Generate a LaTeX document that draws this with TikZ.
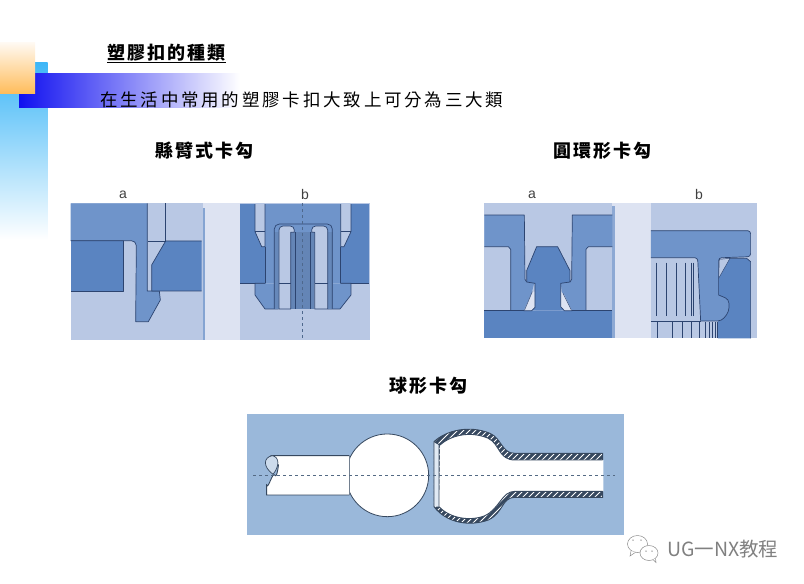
\documentclass[tikz,border=0pt]{standalone}
\usepackage{fontspec}
\usetikzlibrary{shapes.geometric}
\setmainfont{Liberation Sans}
\newfontfamily\cjkwide[LetterSpace=12]{Noto Sans CJK TC}
\newfontfamily\cjkintro[LetterSpace=16]{Noto Sans CJK TC}
\newfontfamily\cjktight{Noto Sans CJK TC}
\definecolor{lightpart}{HTML}{B9C8E4}
\definecolor{midpart}{HTML}{6F94CA}
\definecolor{darkpart}{HTML}{5A84C1}
\definecolor{palestrip}{HTML}{DDE3F2}
\definecolor{edgeline}{HTML}{2C4470}
\definecolor{ballback}{HTML}{9AB8DA}
\definecolor{ballline}{HTML}{36485F}
\tikzset{
	zoomed/.style={x=0.3333pt,y=-0.3333pt},
	edge/.style={draw=edgeline,line width=0.7pt,line join=round},
	thinedge/.style={draw=edgeline,line width=0.45pt},
	heading/.style={font=\cjkwide\bfseries\fontsize{18}{18}\selectfont,inner sep=0pt},
	letter/.style={font=\fontsize{14}{14}\selectfont,text=black!75,inner sep=0pt},
	bubble/.style={draw=black!45,line width=0.5pt,fill=white,ellipse,inner sep=0pt},
	eye/.style={circle,fill=black!45,minimum size=1.5pt,inner sep=0pt},
}
\begin{document}
\begin{tikzpicture}[x=1pt,y=-1pt]
	\useasboundingbox (0,0) rectangle (804,584);
	% slide corner
	\shade[top color={rgb,255:red,61;green,182;blue,247},bottom color=white] (0,62) rectangle (47.5,240);
	\shade[left color={rgb,255:red,16;green,16;blue,240},right color=white] (19,73) rectangle (240,107);
	\shade[top color={rgb,255:red,255;green,250;blue,244},bottom color={rgb,255:red,255;green,189;blue,92}] (0,42) rectangle (35,93);
	% texts
	\node[heading,anchor=west] (title) at (107,53) {塑膠扣的種類};
	\draw[line width=0.8pt] ([yshift=-1pt]title.south west) -- ([yshift=-1pt]title.south east);
	\node[heading,anchor=west,font=\cjkintro\fontsize{17.5}{18}\selectfont] (intro) at (100,100) {在生活中常用的塑膠卡扣大致上可分為三大類};
	\node[heading,anchor=west] (snaphead) at (155,151) {縣臂式卡勾};
	\node[heading,anchor=west] (ringhead) at (553,151) {圓環形卡勾};
	\node[heading,anchor=west] (ballhead) at (389,386) {球形卡勾};
	\node[letter] (snapa) at (123,195) {a};
	\node[letter] (snapb) at (305,194) {b};
	\node[letter] (ringa) at (532,195) {a};
	\node[letter] (ringb) at (699,194) {b};

	% cantilever a
	\begin{scope}[shift={(60,180)},zoomed]
		\fill[lightpart] (32,70) rectangle (428,480);
		\fill[palestrip] (428,70) rectangle (540,480);
		\fill[midpart!70!lightpart] (428,84) rectangle (436,480);
		\fill[darkpart] (32,182) rectangle (190,333);
		\draw[edge] (32,182) -- (190,182) -- (190,333) -- (32,333);
		\fill[midpart] (32,70) -- (262,70) -- (262,333) -- (298,333) -- (301,360) -- (265,425) -- (227,425) -- (229,205) [rounded corners=5pt] -- (229,182) [sharp corners] -- (32,182) -- cycle;
		\draw[edge] (32,182) -- (200,182) [rounded corners=5pt] -- (229,182) [sharp corners] -- (229,205) -- (227,425) -- (265,425) -- (301,360) -- (298,333) -- (262,333) -- (262,70);
		\path[fill=darkpart] (317,183) -- (425,183) -- (425,333) -- (275,333) -- (275,255) -- cycle;
		\draw[edge] (425,183) -- (317,183) -- (275,255) -- (275,333) -- (425,333);
		\draw[edge] (317,70) -- (317,183) -- (265,183);
	\end{scope}

	% cantilever b
	\begin{scope}[shift={(240,200)},zoomed]
		\fill[lightpart] (0,10) rectangle (390,420);
		\fill[darkpart] (0,12) rectangle (75,250);
		\fill[darkpart] (302,12) rectangle (388,250);
		\fill[midpart] (45,12) rectangle (333,72);
		\fill[midpart] (75,72) rectangle (302,250);
		\draw[edge,fill=lightpart] (45,12) -- (45,95) -- (65,140) -- (75,140) -- (75,12);
		\draw[thinedge] (45,95) -- (75,95);
		\draw[edge,fill=lightpart] (333,12) -- (333,95) -- (312,140) -- (302,140) -- (302,12);
		\draw[thinedge] (333,95) -- (302,95);
		\draw[edge] (75,140) -- (75,250) -- (0,250);
		\draw[edge] (302,140) -- (302,250) -- (388,250);
		\draw[edge,fill=midpart] (75,250) -- (45,250) -- (45,285) -- (75,327) -- (115,327) -- (115,250);
		\draw[edge,fill=midpart] (302,250) -- (333,250) -- (333,285) -- (300,327) -- (265,327) -- (265,250);
		\fill[midpart!92!black] (103,95) rectangle (116,327);
		\fill[midpart!92!black] (265,95) rectangle (278,327);
		\fill[midpart!90!black] (153,95) rectangle (222,327);
		\draw[edge,fill=lightpart,rounded corners=3pt] (117,327) [sharp corners] -- (117,95) [rounded corners=4pt] -- (117,78) -- (163,78) [sharp corners] -- (163,97) -- (152,97) -- (152,327) -- cycle;
		\draw[edge,fill=lightpart] (263,327) -- (263,95) [rounded corners=4pt] -- (263,78) -- (215,78) [sharp corners] -- (215,97) -- (224,97) -- (224,327) -- cycle;
		\draw[thinedge] (117,250) -- (152,250);
		\draw[thinedge] (224,250) -- (263,250);
		\draw[edge,rounded corners=5pt] (103,327) -- (103,72) -- (277,72) -- (277,327);
		\draw[thinedge] (165,97) -- (165,327);
		\draw[thinedge] (212,97) -- (212,327);
		\draw[dashed,line width=0.6pt,draw=midpart!70!black] (187,10) -- (187,420);
	\end{scope}

	% ring a
	\begin{scope}[shift={(475,180)},zoomed]
		\fill[lightpart] (28,70) rectangle (412,475);
		\fill[palestrip] (410,70) rectangle (528,475);
		\fill[midpart!60!lightpart] (410,78) rectangle (421,475);
		\fill[darkpart] (28,392) rectangle (412,475);
		\fill[midpart] (28,105) -- (148,105) -- (150,298) -- (155,306) -- (178,308) -- (170,340) -- (146,392) -- (107,392) -- (107,208) -- (100,200) -- (28,200) -- cycle;
		\fill[midpart] (412,105) -- (292,105) -- (290,298) -- (285,306) -- (257,308) -- (262,345) -- (292,392) -- (333,392) -- (333,208) -- (340,200) -- (412,200) -- cycle;
		\draw[edge] (28,105) -- (148,105) -- (150,298) -- (155,306);
		\draw[edge] (412,105) -- (292,105) -- (290,298) -- (285,306);
		\draw[edge] (28,200) -- (100,200) -- (107,208) -- (107,392);
		\draw[edge] (412,200) -- (340,200) -- (333,208) -- (333,392);
		\fill[palestrip] (172,335) -- (182,335) -- (182,392) -- (148,392) -- cycle;
		\fill[palestrip] (258,335) -- (268,345) -- (290,392) -- (258,392) -- cycle;
		\draw[thinedge] (172,335) -- (148,392);
		\draw[thinedge] (264,340) -- (290,392);
		\draw[edge,fill=darkpart] (146,392) -- (170,392) -- (180,382) -- (180,310) -- (155,306) -- (155,272) -- (185,200) -- (248,200) -- (285,272) -- (285,306) -- (257,310) -- (257,380) -- (268,392) -- (292,392);
		\draw[edge] (28,392) -- (146,392);
		\draw[edge] (292,392) -- (412,392);
	\end{scope}

	% ring b
	\begin{scope}[shift={(475,180)},zoomed]
		\fill[lightpart] (528,70) rectangle (847,475);
		\fill[darkpart] (765,235) -- (815,235) -- (827,245) -- (827,475) -- (729,475) -- (729,295) -- cycle;
		\draw[edge] (765,235) -- (815,235) -- (827,245) -- (827,475);
		\draw[thinedge,fill=lightpart] (733,238) -- (765,235) -- (731,295) -- cycle;
		\draw[edge,fill=midpart] (528,152) [rounded corners=3pt] -- (827,152) -- (827,230) [sharp corners] -- (745,233) [rounded corners=3pt] -- (731,233) [sharp corners] -- (731,345) [rounded corners=4pt] -- (762,358) -- (762,395) -- (740,423) [sharp corners] -- (677,423) [rounded corners=3pt] -- (668,233) [sharp corners] -- (528,233);
		\foreach \xa in {545,575,605,630,648,655}
			\draw[thinedge] (\xa,248) -- (\xa,408);
		\draw[thinedge] (528,424) -- (677,424);
		\foreach \xa in {548,592,622,650,672,690,702,712,720,726}
			\draw[thinedge] (\xa,426) -- (\xa,475);
	\end{scope}

	% ball joint
	\begin{scope}[shift={(240,370)},zoomed]
		\fill[ballback] (22,133) rectangle (1153,495);
		\node[circle,draw=ballline,line width=0.8pt,fill=white,minimum size=82.7pt,inner sep=0pt] (ball) at (442,316) {};
		\fill[white] (97,257) -- (328,257) -- (328,375) -- (80,375) -- (80,345) to[out=-70,in=120] (105,316) to[out=-60,in=80] (115,285) to[out=-100,in=0] (97,257);
		\draw[ballline,line width=0.9pt] (328,257) -- (97,257) to[out=0,in=-100] (115,285) to[out=80,in=-60] (105,316) to[out=120,in=-70] (80,345) -- (80,375) -- (328,375);
		\draw[ballline,line width=0.7pt,fill=ballback!50!white] (97,257) .. controls (70,262) and (68,290) .. (99,313) .. controls (118,290) and (120,262) .. (97,257);
		\draw[ballline!70!white,line width=1pt] (328,257) -- (328,375);
		% shell
		\begin{scope}
			\clip (582,215) .. controls (620,180) and (690,165) .. (750,190) .. controls (785,205) and (785,250) .. (825,250) -- (1088,250) -- (1088,382) -- (825,382) .. controls (785,382) and (790,430) .. (745,450) .. controls (690,470) and (620,460) .. (582,410) -- cycle;
			\fill[ballline] (560,150) rectangle (1100,480);
			\foreach \xa in {300,318,...,1200}
				\draw[white,line width=0.8pt] (\xa,480) -- (\xa+320,160);
		\end{scope}
		\fill[white] (600,225) .. controls (640,190) and (700,185) .. (745,205) .. controls (780,222) and (775,270) .. (825,270) -- (1090,270) -- (1090,364) -- (825,364) .. controls (785,364) and (780,415) .. (735,437) .. controls (690,455) and (630,445) .. (597,410) -- cycle;
		\fill[white!70!ballback] (582,215) -- (597,225) -- (597,410) -- (582,410) -- cycle;
		\draw[ballline,line width=0.9pt] (1088,270) -- (1088,250) -- (825,250) .. controls (785,250) and (785,205) .. (750,190) .. controls (690,165) and (620,180) .. (582,215) -- (582,410) .. controls (620,460) and (690,470) .. (745,450) .. controls (790,430) and (785,382) .. (825,382) -- (1088,382) -- (1088,364);
		\draw[ballline,line width=0.9pt] (1088,270) -- (825,270) .. controls (775,270) and (780,222) .. (745,205) .. controls (700,185) and (640,190) .. (600,225) -- (582,215);
		\draw[ballline,line width=0.9pt] (597,225) -- (597,410) .. controls (630,445) and (690,455) .. (735,437) .. controls (780,415) and (785,364) .. (825,364) -- (1088,364);
		\draw[ballline!70!ballback,dashed,line width=0.6pt] (40,317) -- (1125,317);
	\end{scope}

	% watermark
	\node[bubble,minimum width=20pt,minimum height=17pt] (bigbubble) at (637.5,544) {};
	\draw[black!45,line width=0.5pt,fill=white] (631,551) -- (630,556) -- (635.5,552.3);
	\node[bubble,minimum width=18pt,minimum height=15pt] (smallbubble) at (649,553) {};
	\draw[black!45,line width=0.5pt,fill=white] (653,559.6) -- (656,562.5) -- (655.5,558.5);
	\node[eye] (eyea) at (633,540) {};
	\node[eye] (eyeb) at (641,540) {};
	\node[eye] (eyec) at (646,551) {};
	\node[eye] (eyed) at (652,551) {};
	\node[anchor=west,inner sep=0pt,text=black!50,font=\cjktight\fontsize{19.5}{20}\selectfont] (mark) at (667,549) {UG一NX教程};
\end{tikzpicture}
\end{document}
